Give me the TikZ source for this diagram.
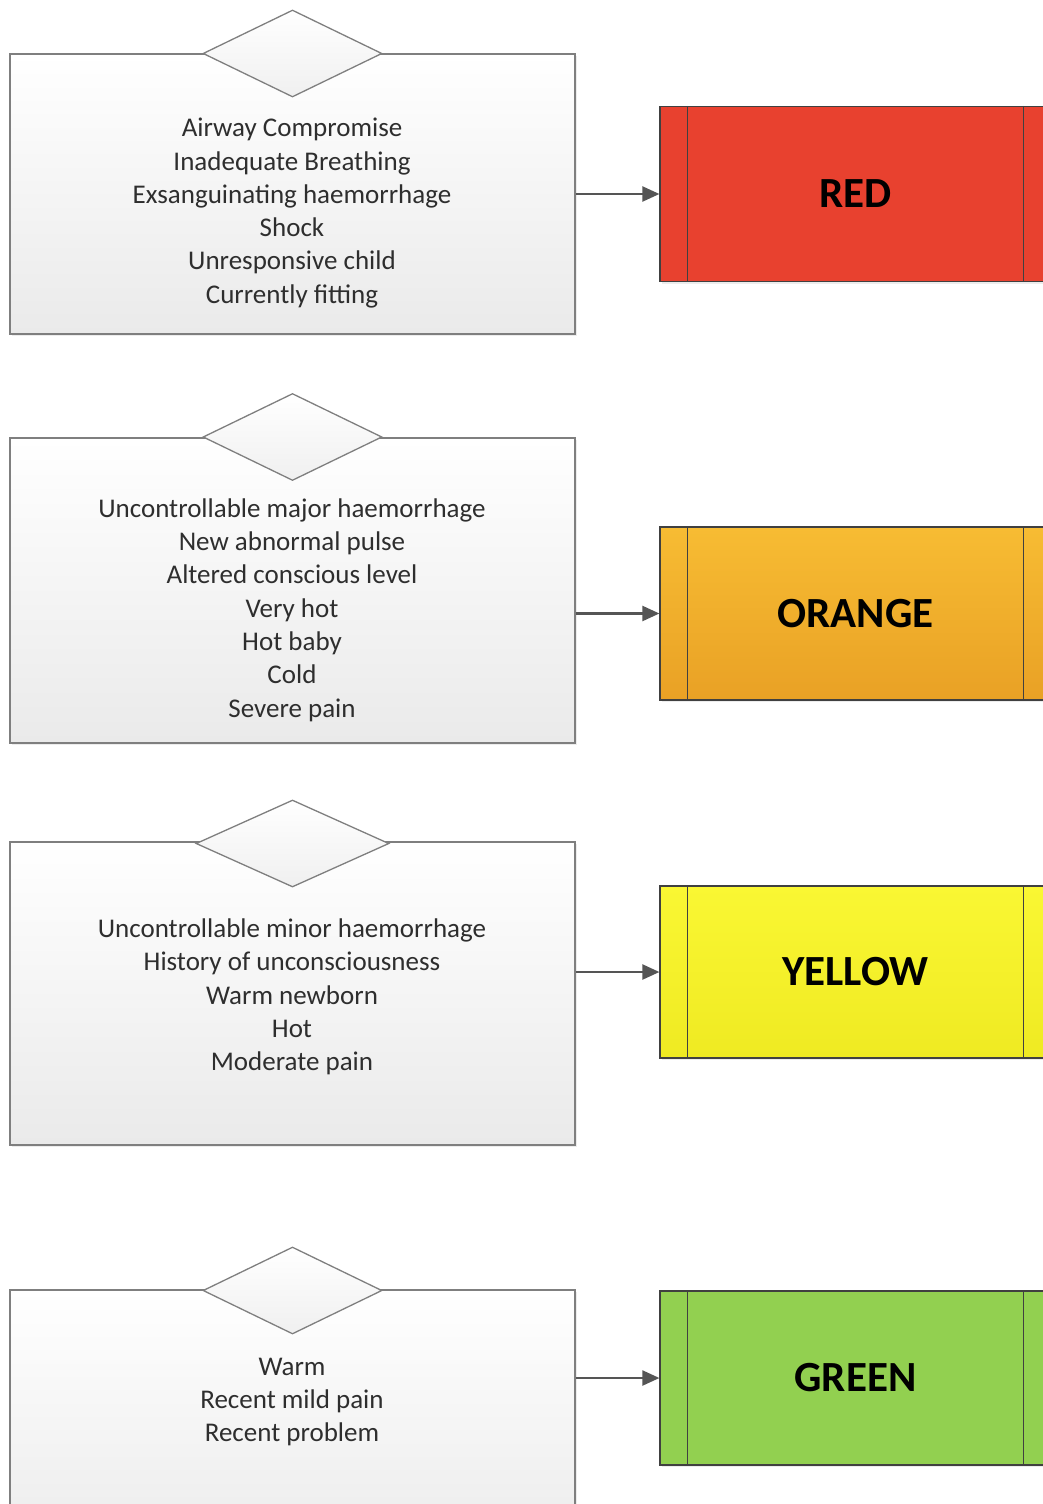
\documentclass[tikz,border=0pt]{standalone}
\usepackage{fontspec}
\setmainfont{Carlito}
\usetikzlibrary{shapes.geometric,shadows,arrows.meta}
\definecolor{boxline}{HTML}{7F7F7F}
\definecolor{boxbot}{HTML}{EAEAEA}
\definecolor{txt}{HTML}{2E2E2E}
\definecolor{conngray}{HTML}{555555}
\definecolor{redfill}{HTML}{E8412F}
\definecolor{orangetop}{HTML}{F7BC33}
\definecolor{orangebot}{HTML}{E9A125}
\definecolor{yellowtop}{HTML}{FAF733}
\definecolor{yellowbot}{HTML}{EFEA22}
\definecolor{greenfill}{HTML}{92D050}
\begin{document}
\begin{tikzpicture}[x=1pt,y=-1pt,
  crit/.style={draw=boxline, line width=1.6pt, top color=white, bottom color=boxbot,
    minimum width=565pt, inner sep=0pt,
    drop shadow={opacity=0.15, shadow xshift=2pt, shadow yshift=-2pt}},
  dec/.style={diamond, draw=boxline, line width=1.3pt, top color=white, bottom color=black!6,
    minimum width=179pt, minimum height=87pt, inner sep=0pt, aspect=2.06},
  items/.style={align=center, font=\fontsize{27}{33.3}\selectfont, text=txt},
  level/.style={draw=black!75, line width=1.2pt, minimum width=391pt, inner sep=0pt,
    font=\fontsize{43}{50}\selectfont\bfseries, text=black,
    drop shadow={opacity=0.15, shadow xshift=2pt, shadow yshift=-2pt}},
  conn/.style={draw=conngray, line width=2.2pt, -{Triangle[length=17pt,width=15pt]}},
  bar/.style={draw=black!75, line width=1.2pt}
]
\useasboundingbox (0,0) rectangle (1042,1504);
\fill[white] (0,0) rectangle (1042,1504);

% ---------- RED ----------
\node[crit, minimum height=280pt] (c1) at (292.5,194) {};
\node[dec] (d1) at (292.5,53.5) {};
\node[items] (t1) at (292,213) {Airway Compromise\\Inadequate Breathing\\Exsanguinating haemorrhage\\Shock\\Unresponsive child\\Currently fitting};
\node[level, fill=redfill, minimum height=175pt] (red) at (855.5,194) {RED};
\draw[bar] ([xshift=28pt]red.north west) -- ([xshift=28pt]red.south west);
\draw[bar] ([xshift=-28pt]red.north east) -- ([xshift=-28pt]red.south east);
\draw[conn] (red.west -| c1.east) -- (red.west);

% ---------- ORANGE ----------
\node[crit, minimum height=305pt] (c2) at (292.5,590.5) {};
\node[dec] (d2) at (292.5,437) {};
\node[items] (t2) at (292,610) {Uncontrollable major haemorrhage\\New abnormal pulse\\Altered conscious level\\Very hot\\Hot baby\\Cold\\Severe pain};
\node[level, top color=orangetop, bottom color=orangebot, minimum height=173pt] (orange) at (855.5,613.5) {ORANGE};
\draw[bar] ([xshift=28pt]orange.north west) -- ([xshift=28pt]orange.south west);
\draw[bar] ([xshift=-28pt]orange.north east) -- ([xshift=-28pt]orange.south east);
\draw[conn] (orange.west -| c2.east) -- (orange.west);

% ---------- YELLOW ----------
\node[crit, minimum height=303pt] (c3) at (292.5,993.5) {};
\node[dec, minimum width=193pt, aspect=2.27] (d3) at (292.5,843.5) {};
\node[items] (t3) at (292,997) {Uncontrollable minor haemorrhage\\History of unconsciousness\\Warm newborn\\Hot\\Moderate pain};
\node[level, top color=yellowtop, bottom color=yellowbot, minimum height=172pt] (yellow) at (855.5,972) {YELLOW};
\draw[bar] ([xshift=28pt]yellow.north west) -- ([xshift=28pt]yellow.south west);
\draw[bar] ([xshift=-28pt]yellow.north east) -- ([xshift=-28pt]yellow.south east);
\draw[conn] (yellow.west -| c3.east) -- (yellow.west);

% ---------- GREEN ----------
\node[crit, minimum height=280pt] (c4) at (292.5,1430) {};
\node[dec] (d4) at (292.5,1290.5) {};
\node[items] (t4) at (292,1402) {Warm\\Recent mild pain\\Recent problem};
\node[level, fill=greenfill, minimum height=174pt] (green) at (855.5,1378) {GREEN};
\draw[bar] ([xshift=28pt]green.north west) -- ([xshift=28pt]green.south west);
\draw[bar] ([xshift=-28pt]green.north east) -- ([xshift=-28pt]green.south east);
\draw[conn] (green.west -| c4.east) -- (green.west);
\end{tikzpicture}
\end{document}
